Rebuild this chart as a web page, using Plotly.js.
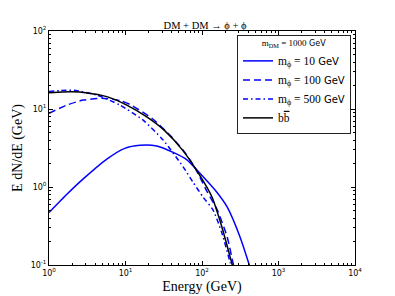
<!DOCTYPE html>
<html><head><meta charset="utf-8">
<script src="https://cdn.plot.ly/plotly-3.0.1.min.js"></script>
<style>html,body{margin:0;padding:0;background:#fff;}</style>
</head><body>
<div id="chart" style="width:395px;height:296px;"></div>
<script>
// m_phi = 10 GeV
const E_10 = [1, 1.7, 2.8, 5.7, 9.8, 15.5, 25.5, 42, 63, 94, 150, 213, 314, 430];
const V_10 = [0.47, 0.8, 1.27, 2.28, 3.13, 3.42, 3.36, 2.78, 2.25, 1.5, 0.9, 0.555, 0.229, 0.09];
// m_phi = 100 GeV
const E_100 = [1, 1.7, 2.8, 4.9, 8.5, 11.5, 22.5, 40, 60, 80, 100, 116, 158, 213, 254, 275];
const V_100 = [8.8, 11.2, 13.0, 13.7, 12.8, 11.4, 7.5, 4.4, 2.75, 1.8, 1.18, 0.88, 0.51, 0.23, 0.107, 0.075];
// m_phi = 500 GeV
const E_500 = [1, 1.4, 2.1, 4.2, 8.5, 17, 31, 57, 76, 103, 139, 182, 233, 250];
const V_500 = [16.8, 17.2, 17.4, 15.1, 11.2, 7.2, 4.0, 1.8, 1.16, 0.745, 0.51, 0.257, 0.107, 0.075];
// b bbar
const E_bb = [1, 1.5, 2, 3, 5.7, 10.4, 19, 33, 56, 94, 135, 182, 233, 260];
const V_bb = [16.2, 16.5, 16.6, 16.2, 14.4, 11.2, 7.9, 5.2, 2.95, 1.4, 0.745, 0.307, 0.127, 0.085];

const serif = '"Liberation Serif", "DejaVu Serif", serif';
const sans = '"DejaVu Sans", sans-serif';
const sf = (s, px) => '<span style="font-family:Liberation Serif;font-size:' + px + 'px">' + s + '</span>';

const names = [
  sf('m<sub>ϕ</sub> = 10', 11.5) + ' GeV',
  sf('m<sub>ϕ</sub> = 100', 11.5) + ' GeV',
  sf('m<sub>ϕ</sub> = 500', 11.5) + ' GeV',
  sf('b<span style="text-decoration:overline">b</span>', 11.5)
];
const legendHeader = sf('m<sub>DM</sub> = 1000', 9) + ' GeV';
const chartTitle = 'DM + DM → ϕ + ϕ';
const xTitle = 'Energy (GeV)';
const yTitle = 'E dN/dE (GeV)';
const xTickVals = [1, 10, 100, 1000, 10000];
const xTickText = ['10<sup>0</sup>', '10<sup>1</sup>', '10<sup>2</sup>', '10<sup>3</sup>', '10<sup>4</sup>'];
const yTickVals = [0.1, 1, 10, 100];
const yTickText = ['10<sup>-1</sup>', '10<sup>0</sup>', '10<sup>1</sup>', '10<sup>2</sup>'];

function minorVals(lo, hi) {
  const v = [];
  for (let d = lo; d < hi; d++) for (let k = 2; k <= 9; k++) v.push(k * Math.pow(10, d));
  return v;
}

const traces = [
  {x: E_10, y: V_10, name: names[0], line: {color: '#0000ff', width: 1.5, dash: 'solid', shape: 'spline', smoothing: 0.6}},
  {x: E_100, y: V_100, name: names[1], line: {color: '#0000ff', width: 1.5, dash: '7px,4px', shape: 'spline', smoothing: 0.6}},
  {x: E_500, y: V_500, name: names[2], line: {color: '#0000ff', width: 1.5, dash: '5px,3px,1.5px,3px', shape: 'spline', smoothing: 0.6}},
  {x: E_bb, y: V_bb, name: names[3], line: {color: '#000000', width: 1.5, dash: 'solid', shape: 'spline', smoothing: 0.6}}
].map(t => Object.assign({type: 'scatter', mode: 'lines', hoverinfo: 'skip'}, t));

const axisCommon = {
  type: 'log',
  showline: true, linecolor: '#000', linewidth: 1,
  mirror: 'allticks',
  ticks: 'inside', ticklen: 4, tickwidth: 1, tickcolor: '#000',
  showgrid: false, zeroline: false,
  tickmode: 'array',
  tickfont: {family: sans, size: 8, color: '#000'}
};

const layout = {
  width: 395, height: 296,
  margin: {l: 49, r: 40, t: 31, b: 31, pad: 0},
  paper_bgcolor: '#fff', plot_bgcolor: '#fff',
  showlegend: true,
  title: {text: chartTitle, font: {family: serif, size: 10.5, color: '#000'}, x: 0.51, xref: 'paper', y: 1 - 25 / 296, yref: 'container', yanchor: 'middle'},
  xaxis: Object.assign({}, axisCommon, {
    range: [0, 4], tickvals: xTickVals, ticktext: xTickText,
    minor: {ticks: 'inside', ticklen: 2, tickwidth: 1, tickcolor: '#000', tickmode: 'array', tickvals: minorVals(0, 4), showgrid: false},
    title: {text: xTitle, font: {family: serif, size: 14, color: '#000'}, standoff: 4}
  }),
  yaxis: Object.assign({}, axisCommon, {
    range: [-1, 2], tickvals: yTickVals, ticktext: yTickText,
    minor: {ticks: 'inside', ticklen: 2, tickwidth: 1, tickcolor: '#000', tickmode: 'array', tickvals: minorVals(-1, 2), showgrid: false},
    title: {text: yTitle, font: {family: serif, size: 14, color: '#000'}, standoff: 4}
  }),
  legend: {
    x: 0.987, xanchor: 'right', y: 0.983, yanchor: 'top',
    bgcolor: '#fff', bordercolor: '#222', borderwidth: 1,
    font: {family: sans, size: 10, color: '#000'},
    itemwidth: 30, tracegroupgap: 0,
    title: {text: legendHeader, font: {family: sans, size: 8, color: '#000'}, side: 'top center'}
  }
};

Plotly.newPlot('chart', traces, layout, {staticPlot: true, displayModeBar: false});
</script>
</body></html>
